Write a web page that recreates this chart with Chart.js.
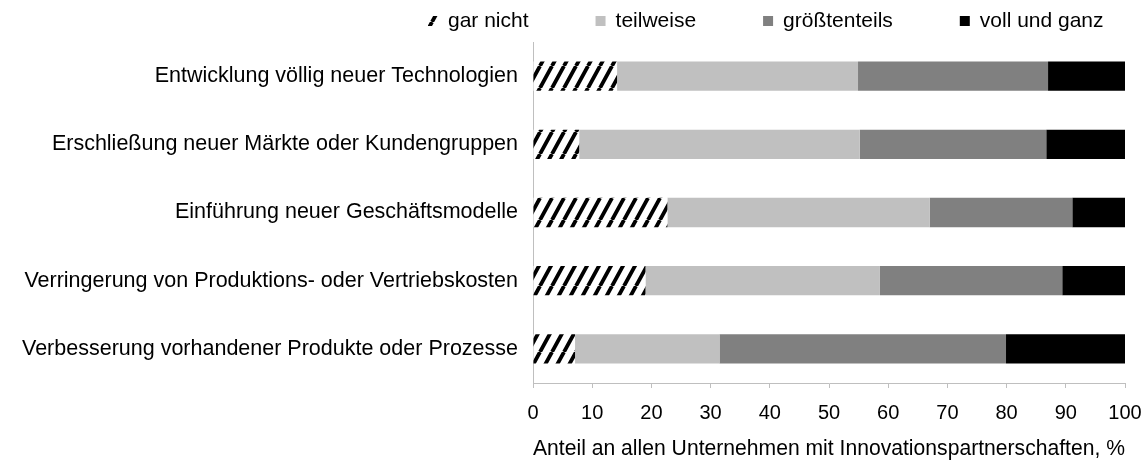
<!DOCTYPE html>
<html lang="de">
  <head>
    <meta charset="UTF-8" />
    <meta name="viewport" content="width=device-width, initial-scale=1.0" />
    <script src="https://cdn.jsdelivr.net/npm/chart.js@4.4.1/dist/chart.umd.min.js"></script>
    <title>Innovationspartnerschaften</title>
    <style>
      html, body { margin: 0; padding: 0; background: #fff; }
      #wrap { width: 1146px; height: 463px; }
    </style>
  </head>
  <body>
    <div id="wrap">
      <canvas id="myChart" width="1146" height="463"></canvas>
    </div>
    <script>
      // Kategorien (von oben nach unten)
      const categories = [
        "Entwicklung völlig neuer Technologien",
        "Erschließung neuer Märkte oder Kundengruppen",
        "Einführung neuer Geschäftsmodelle",
        "Verringerung von Produktions- oder Vertriebskosten",
        "Verbesserung vorhandener Produkte oder Prozesse",
      ];
      const seriesNames = ["gar nicht", "teilweise", "größtenteils", "voll und ganz"];

      // Anteile in %
      const garNicht = [14.2, 7.8, 22.7, 19.0, 7.1];
      const teilweise = [40.7, 47.4, 44.3, 39.6, 24.4];
      const groesstenteils = [32.1, 31.5, 24.1, 30.8, 48.4];
      const vollUndGanz = [13.0, 13.3, 8.9, 10.6, 20.1];

      const xTicks = [0, 10, 20, 30, 40, 50, 60, 70, 80, 90, 100];
      const xTitle = "Anteil an allen Unternehmen mit Innovationspartnerschaften, %";

      const FONT = "'Liberation Sans', Arial, sans-serif";

      // Schraffur fuer "gar nicht"
      function makeHatch(ctx) {
        var tile = document.createElement("canvas");
        tile.width = 12;
        tile.height = 22;
        var t = tile.getContext("2d");
        t.fillStyle = "#ffffff";
        t.fillRect(0, 0, 12, 22);
        t.strokeStyle = "#000000";
        t.lineWidth = 3.8;
        t.beginPath();
        for (var k = -1; k <= 1; k++) {
          t.moveTo(k * 12, 22);
          t.lineTo(k * 12 + 12, 0);
        }
        t.stroke();
        return ctx.createPattern(tile, "repeat");
      }

      var canvas = document.getElementById("myChart");
      var ctx = canvas.getContext("2d");
      var hatch = makeHatch(ctx);

      // Legende als eine Zeile oben
      const legendRow = {
        id: "legendRow",
        afterDraw(chart) {
          var c = chart.ctx;
          c.save();
          c.font = "21px " + FONT;
          c.textBaseline = "middle";
          c.textAlign = "left";
          var x = 428;
          var y = 21;
          chart.data.datasets.forEach(function (ds) {
            c.fillStyle = ds.backgroundColor;
            c.fillRect(x, y - 5, 10, 10);
            c.fillStyle = "#000";
            c.fillText(ds.label, x + 20, y);
            x += 20 + c.measureText(ds.label).width + 67;
          });
          c.restore();
        },
      };

      var data = {
        labels: categories,
        datasets: [
          { label: seriesNames[0], data: garNicht, backgroundColor: hatch },
          { label: seriesNames[1], data: teilweise, backgroundColor: "#c0c0c0" },
          { label: seriesNames[2], data: groesstenteils, backgroundColor: "#808080" },
          { label: seriesNames[3], data: vollUndGanz, backgroundColor: "#000000" },
        ],
      };

      var option = {
        indexAxis: "y",
        responsive: false,
        animation: false,
        layout: { padding: { top: 42, right: 21, bottom: 0, left: 0 } },
        datasets: {
          bar: { barPercentage: 0.43, categoryPercentage: 1, borderWidth: 0 },
        },
        plugins: {
          legend: { display: false },
          tooltip: { enabled: false },
        },
        scales: {
          x: {
            stacked: true,
            min: 0,
            max: 100,
            afterBuildTicks: function (scale) {
              scale.ticks = xTicks.map(function (v) { return { value: v }; });
            },
            afterFit: function (scale) {
              scale.height = 80;
              scale.paddingLeft = 0;
              scale.paddingRight = 0;
            },
            grid: {
              drawOnChartArea: false,
              drawTicks: true,
              tickLength: 5,
              color: "#bfbfbf",
            },
            border: { color: "#bfbfbf", width: 1 },
            ticks: {
              color: "#000",
              padding: 13,
              maxRotation: 0,
              font: { family: FONT, size: 20 },
            },
            title: {
              display: true,
              text: xTitle,
              color: "#000",
              padding: { top: 4, bottom: 1 },
              font: { family: FONT, size: 21.5 },
            },
          },
          y: {
            stacked: true,
            afterFit: function (scale) { scale.width = 533; },
            grid: { drawOnChartArea: false, drawTicks: false },
            border: { color: "#bfbfbf", width: 1 },
            ticks: {
              color: "#000",
              padding: 15,
              font: { family: FONT, size: 21.5 },
            },
          },
        },
      };

      var myChart = new Chart(ctx, {
        type: "bar",
        data: data,
        options: option,
        plugins: [legendRow],
      });
    </script>
  </body>
</html>
